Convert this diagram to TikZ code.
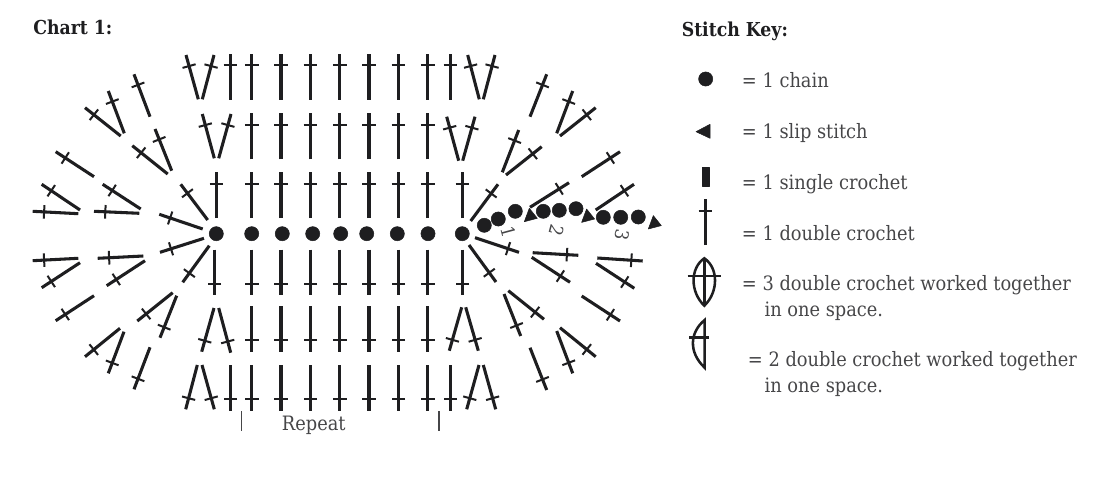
\documentclass[tikz,border=0pt]{standalone}
\usepackage{fontspec}
\setmainfont{DejaVu Serif Condensed}
\usetikzlibrary{calc}
\definecolor{inkdark}{RGB}{30, 30, 32}
\definecolor{txtgray}{RGB}{70, 70, 72}
\tikzset{
  % stitch strokes
  stemline/.style = {draw=inkdark, line width=2.3pt},
  barline/.style  = {draw=inkdark, line width=1.5pt},
  % chain and slip marks
  chainpt/.style  = {fill=inkdark, draw=inkdark, line width=0.4pt, line join=round},
  % labels
  keylab/.style   = {anchor=base west, inner sep=0pt, font=\fontsize{14.85}{16}\selectfont, txtgray},
  headlab/.style  = {anchor=base west, inner sep=0pt, font=\fontsize{14.4}{16}\selectfont\bfseries, inkdark},
  numlab/.style   = {inner sep=0pt, font=\fontsize{14}{14}\selectfont, txtgray},
  tickline/.style = {draw=txtgray, line width=0.9pt},
  keyline/.style  = {draw=inkdark, line width=1.9pt},
}
% one double crochet: base point, tip point
\newcommand{\dcst}[2]{%
  \draw[stemline] (#1) -- (#2);
  \draw[barline] ($(#1)!0.75!(#2)!5.1pt!90:(#2)$) -- ($(#1)!0.75!(#2)!5.1pt!-90:(#2)$);
}
% one chain stitch
\newcommand{\chst}[1]{\filldraw[chainpt] (#1) circle (5.3pt);}
% one slip stitch of the worked row
\newcommand{\slst}[1]{\filldraw[chainpt] ($(#1)+(-5.7,6.7)$) -- ($(#1)+(-0.7,-6.7)$) -- ($(#1)+(7.3,3.3)$) -- cycle;}
\begin{document}
\begin{tikzpicture}[x=0.75pt, y=-0.75pt]
  \useasboundingbox (0,0) rectangle (1117,492);

  % Headings
  \node[headlab] (charthead) at (33,35) {Chart 1:};
  \node[headlab] (keyhead) at (681.5,36.5) {Stitch Key:};

  % Foundation chain
  \foreach \x in {216.3,251.7,282.3,312.7,340.7,366.7,397.3,428,462.3}
    {\chst{\x,233.7}}

  % Straight columns above the chain
  \foreach \x in {230.3,251.7,281,310.3,339.7,369,398.3,427.7,450.3}
    {\dcst{\x,100}{\x,54}}
  \foreach \x in {251.7,281,310.3,339.7,369,398.3,427.7}
    {\dcst{\x,159.3}{\x,113.3}}
  \foreach \x in {216.3,251.7,281,310.3,339.7,369,398.3,427.7,462.3}
    {\dcst{\x,218}{\x,172}}

  % Straight columns below the chain
  \foreach \x in {214.3,251.7,281,310.3,339.7,369,398.3,427.7,462.3}
    {\dcst{\x,249.5}{\x,295}}
  \foreach \x in {251.7,281,310.3,339.7,369,398.3,427.7}
    {\dcst{\x,306}{\x,351.7}}
  \foreach \x in {230.3,251.7,281,310.3,339.7,369,398.3,427.7,450.3}
    {\dcst{\x,365}{\x,410.7}}

  % V pairs on the straight rows
  \dcst{198.3,99.3}{186,55}      \dcst{202.3,99.3}{214,55}
  \dcst{479.3,99.3}{467.7,55}    \dcst{483.3,99.3}{495,55}
  \dcst{214.3,158.3}{202.3,114}  \dcst{218.7,158.3}{231,114}
  \dcst{458.7,160.7}{446.7,116.7} \dcst{462.7,160.7}{475,116.7}
  \dcst{214,308}{201.7,351.7}    \dcst{218.7,308}{230.7,352.7}
  \dcst{461.7,307.3}{449.3,350.7} \dcst{465.7,307.3}{478.3,350.7}
  \dcst{197.3,365}{185.7,409.3}  \dcst{202,365}{214.3,409.3}
  \dcst{479,365}{466.7,409.3}    \dcst{483.3,365}{495.7,409.3}

  % Left fan, upper half
  \dcst{207.7,220}{180.7,184.3}
  \dcst{202.7,229}{159.3,214.3}
  \dcst{171.7,170.7}{155,129}    \dcst{167.7,174}{132.3,145.7}
  \dcst{150,116.7}{134,74.3}
  \dcst{124.3,133.3}{108.3,91}   \dcst{120.7,136}{85,107.7}
  \dcst{94,176.7}{55.7,151.7}
  \dcst{140.7,209}{102.7,184.3}  \dcst{139.3,213.3}{94,211.3}
  \dcst{80,210}{41.7,184.3}      \dcst{78.3,213.7}{32.7,211.3}

  % Left fan, lower half
  \dcst{204,238.3}{160,252.3}
  \dcst{209.3,245.7}{182.7,282.3}
  \dcst{143.3,256}{97.7,258.3}   \dcst{145,260.7}{106.7,285.7}
  \dcst{78.3,258.3}{32.7,260.7}  \dcst{80,262.7}{41.7,287.7}
  \dcst{94,295.7}{55.7,320.7}
  \dcst{172.7,292.7}{137.3,321}  \dcst{176.7,295.7}{160,337.7}
  \dcst{120,328.3}{85,356.7}     \dcst{124,331.7}{108.3,373.3}
  \dcst{150,347.3}{134,389.3}

  % Right fan, upper half
  \dcst{470.7,221}{498,184.3}
  \dcst{502.3,172.3}{518.7,130}  \dcst{506,175}{541.7,146.7}
  \dcst{530,116.7}{546.7,74.3}
  \dcst{556.7,133.3}{572.7,91}   \dcst{560,136}{595.7,107.7}
  \dcst{530,207.3}{569,182.7}
  \dcst{581.7,176.7}{620,151.7}
  \dcst{595.7,210}{634,184.3}

  % Right fan, lower half
  \dcst{475,237.7}{519,252.3}
  \dcst{469,245}{496,282}
  \dcst{532.7,252.7}{578.3,255.3} \dcst{531.7,257.3}{570,282.3}
  \dcst{597.3,258}{642.7,261}    \dcst{596,263.3}{634.3,288.3}
  \dcst{581.7,296}{620,321}
  \dcst{504,294}{520.7,336}      \dcst{508.3,290.7}{544,319.3}
  \dcst{556.7,331}{572.7,373.3}  \dcst{560,327.7}{595.7,356.7}
  \dcst{530,347.7}{546.7,390}

  % Worked row of chains and slip stitches
  \foreach \x/\y in {484.3/225.3,498.3/219,515.3/211.3,543.3/211.3,559.3/210.3,576/208.7,603.3/217.3,620.7/217.3,638.3/217}
    {\chst{\x,\y}}
  \slst{530,215}
  \slst{587.3,215.7}
  \slst{654,222.3}

  % Row numbers
  \node[numlab, rotate=-75] (rowone) at (509,232) {1};
  \node[numlab, rotate=-105] (rowtwo) at (557.3,230) {2};
  \node[numlab, rotate=-100] (rowthree) at (622.7,235) {3};

  % Repeat marks
  \draw[tickline] (241.7,411) -- (241.7,431);
  \draw[tickline] (439,411) -- (439,431);
  \node[keylab] (repeatlab) at (281.7,430) {Repeat};

  % Key: chain, slip, single
  \fill[chainpt] (705.7,79) circle (5.3pt);
  \node[keylab] (keychain) at (741.7,87.3) {= 1 chain};
  \fill[chainpt] (696,131.7) -- (710,124.3) -- (710,138.3) -- cycle;
  \node[keylab] (keyslip) at (741.7,138.3) {= 1 slip stitch};
  \fill[chainpt] (702.7,167.7) rectangle (709.3,186.7);
  \node[keylab] (keysingle) at (741.7,189) {= 1 single crochet};

  % Key: double crochet
  \dcst{705.3,245}{705.3,199}
  \node[keylab] (keydouble) at (741.7,240) {= 1 double crochet};

  % Key: three together
  \draw[keyline] (704.3,258.3) .. controls (690,268) and (690,292) .. (704.3,305.7)
    .. controls (718.6,292) and (718.6,268) .. cycle;
  \draw[keyline] (704.3,258.3) -- (704.3,305.7);
  \draw[keyline] (687.7,276) -- (721,276);
  \node[keylab] (keythree) at (741.7,290.7) {= 3 double crochet worked together};
  \node[keylab] (keythreeb) at (764.3,316) {in one space.};

  % Key: two together
  \draw[keyline] (704.7,320) .. controls (690,332) and (688,352) .. (704.7,367.7) -- cycle;
  \draw[keyline] (689.3,337.3) -- (709.3,337.3);
  \node[keylab] (keytwo) at (747.7,366.7) {= 2 double crochet worked together};
  \node[keylab] (keytwob) at (764.3,392.3) {in one space.};
\end{tikzpicture}
\end{document}
